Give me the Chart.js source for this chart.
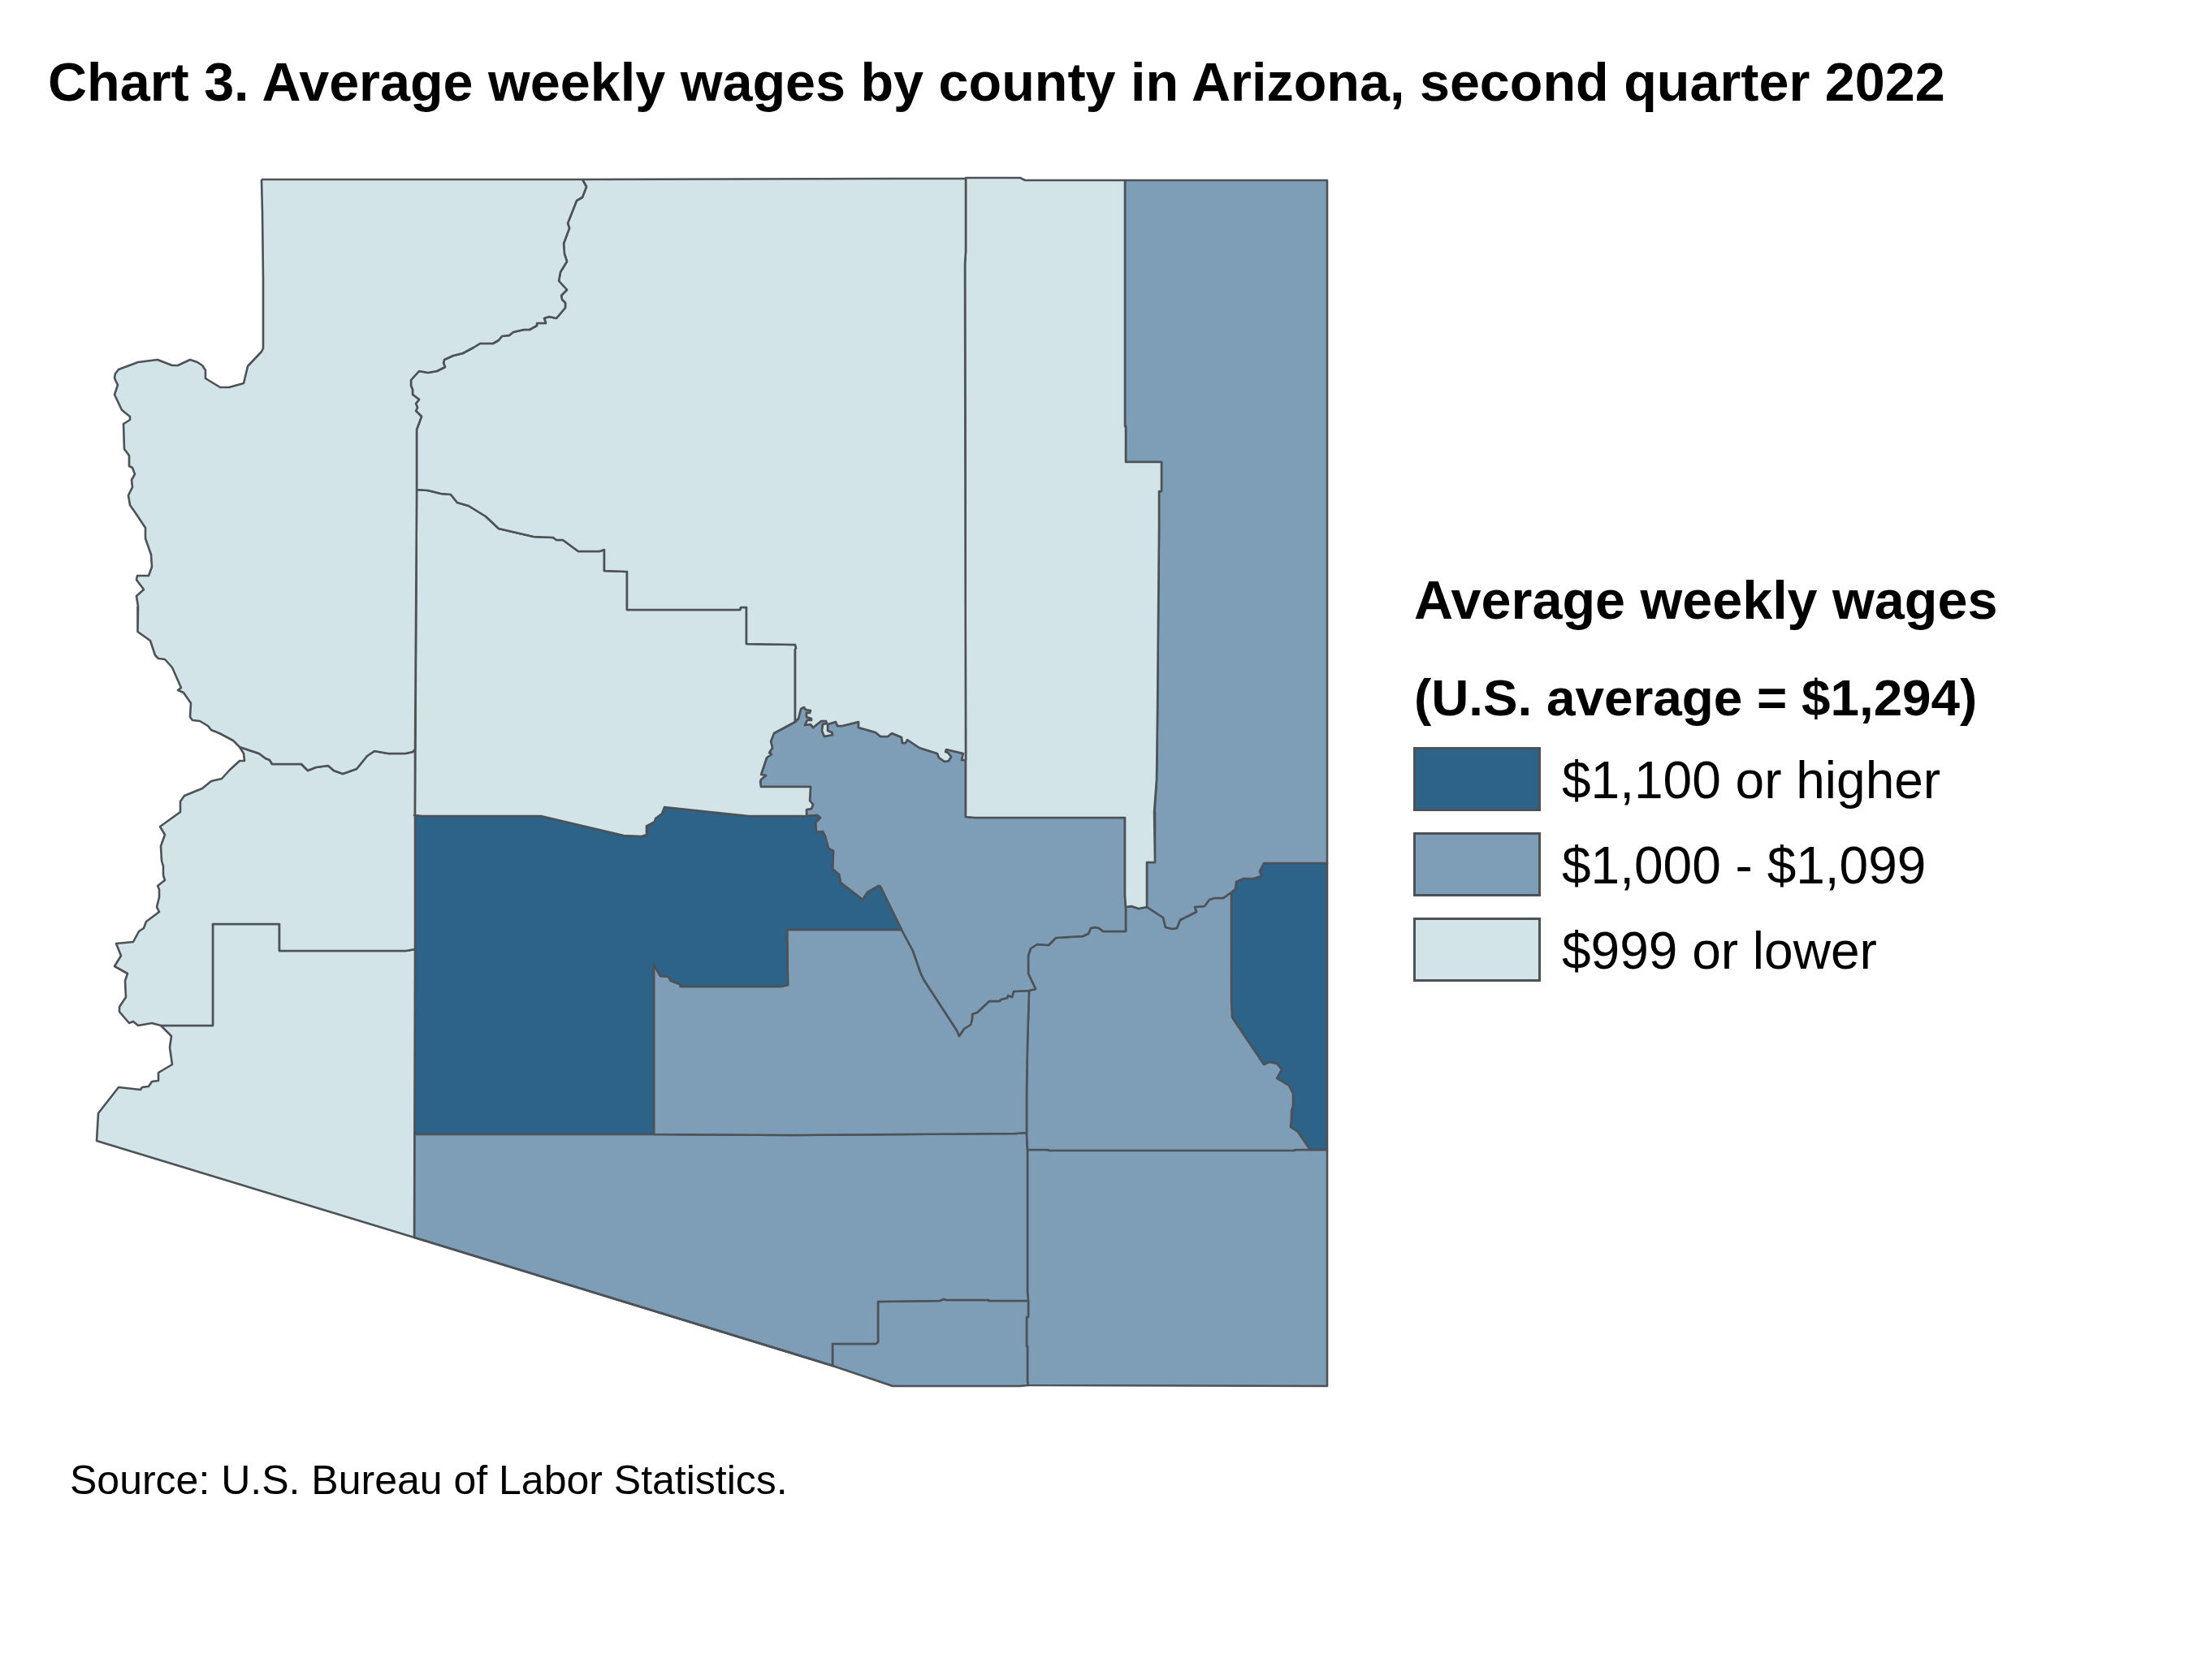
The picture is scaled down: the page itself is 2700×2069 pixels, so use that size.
<!DOCTYPE html>
<html>
<head>
<meta charset="utf-8">
<title>Average weekly wages by county in Arizona</title>
<script src="https://cdn.jsdelivr.net/npm/chart.js@4"></script>
<style>
  html, body { margin:0; padding:0; background:#fff; }
  #page { position:relative; width:2700px; height:2069px; font-family:"Liberation Sans", Arial, sans-serif; color:#000; overflow:hidden; }
  #map { position:absolute; left:0; top:0; }
  .txt { position:absolute; white-space:nowrap; line-height:1; }
  .bold { font-weight:bold; }
  #title { left:59px; top:68px; font-size:66.5px; }
  #legendHead1 { left:1741px; top:706px; font-size:66.5px; }
  #legendHead2 { left:1741px; top:828px; font-size:63.8px; }
  #source { left:86px; top:1798px; font-size:50px; }
  .swatch { position:absolute; left:1740px; width:151px; height:73px; border:3px solid #4d5257; }
  .tierLabel { position:absolute; left:1923px; font-size:64px; line-height:1; white-space:nowrap; }
</style>
</head>
<body>
<div id="page">
  <canvas id="map" width="2700" height="2069"></canvas>
  <div id="title" class="txt bold">Chart 3. Average weekly wages by county in Arizona, second quarter 2022</div>
  <div id="legendHead1" class="txt bold">Average weekly wages</div>
  <div id="legendHead2" class="txt bold">(U.S. average = $1,294)</div>
  <div id="legendRows"></div>
  <div id="source" class="txt">Source: U.S. Bureau of Labor Statistics.</div>
</div>
<script>
/* -------- WAGE TIERS -------- */
const tierLabels = ["$1,100 or higher", "$1,000 - $1,099", "$999 or lower"];
const tierColors = ["#2d6289", "#7e9eb8", "#d3e4e9"];

const countyNames = ["Mohave","Coconino","Navajo","Apache","Yavapai","La Paz","Yuma","Maricopa","Gila","Pinal","Graham","Greenlee","Pima","Santa Cruz","Cochise"];
const countyTiers = [2,2,2,1,2,2,2,0,1,1,1,0,1,1,1];

/* -------- COUNTY BORDERS (map units, shared stretches kept once) -------- */
const mohaveWest = [[322,221],[323,262],[324,344],[324,429],[322,433],[305,451],[300,472],[282,477],[271,477],[253,466],[253,456],[249,450],[243,446],[234,443],[219,450],[212,450],[194,443],[170,446],[146,455],[142,460],[141,465],[142,468],[145,474],[141,486],[150,505],[160,513],[160,517],[152,522],[153,553],[159,561],[159,574],[163,576],[166,584],[162,591],[163,600],[158,610],[160,622],[167,632],[179,650],[179,663],[186,683],[187,698],[183,709],[169,709],[168,714],[177,726],[168,734],[170,747],[170,763],[169,778],[185,789],[191,807],[195,811],[203,812],[212,822],[223,847],[219,850],[226,853],[235,866],[234,883],[237,887],[246,888],[256,894],[260,899],[270,903],[287,912],[295,920]];
const mohaveLaPaz = [[295,920],[319,928],[327,934],[332,936],[335,941],[371,941],[379,949],[389,945],[404,943],[411,949],[422,953],[439,947],[452,931],[461,925],[478,928],[499,928],[508,926],[511,923]];
const mohaveYavapai = [[513,603],[513,613],[512,773],[511,923]];
const mohaveCoconino = [[717,221],[722,230],[717,243],[710,247],[699,275],[701,281],[694,300],[695,313],[698,322],[690,335],[688,346],[698,357],[691,364],[692,369],[696,373],[696,379],[685,392],[676,390],[670,392],[672,398],[661,398],[661,401],[652,406],[645,406],[632,409],[627,413],[618,414],[614,419],[607,423],[591,423],[583,428],[570,435],[558,438],[547,443],[546,447],[548,452],[538,457],[527,459],[516,457],[506,468],[506,475],[508,480],[508,486],[516,492],[512,497],[514,502],[512,506],[519,513],[513,529],[513,603]];
const yavapaiNorth = [[513,603],[527,604],[543,608],[555,609],[563,619],[577,623],[598,636],[614,651],[657,661],[681,662],[685,665],[693,665],[712,679],[738,679],[744,677],[744,703],[772,704],[772,751],[911,751],[912,748],[919,748],[919,793],[979,794],[980,798],[979,800],[979,889]];
const coconinoGila = [[979,889],[983,885],[986,873],[990,871],[992,874],[998,875],[997,878],[993,878],[993,883],[999,885],[999,887],[994,887],[991,893],[998,892],[1001,896],[1011,888],[1017,888],[1018,891],[1013,892],[1012,900],[1015,907],[1025,905],[1024,902],[1019,900],[1019,892],[1029,889],[1031,894],[1037,894],[1057,889],[1057,896],[1078,902],[1084,907],[1093,907],[1098,903],[1110,908],[1111,915],[1115,915],[1117,911],[1132,921],[1154,928],[1156,933],[1163,938],[1168,937],[1171,932],[1167,927],[1164,926],[1165,923],[1186,928],[1184,936],[1189,936]];
const coconinoTop = [[717,221],[1100,220],[1189,220]];
const coconinoNavajo = [[1189,220],[1189,310],[1188,325],[1189,936]];
const navajoTop = [[1189,220],[1189,219],[1256,219],[1262,222],[1385,222]];
const navajoApache = [[1385,222],[1385,525],[1386,525],[1386,569],[1430,569],[1430,605],[1427,605],[1427,650],[1426,760],[1425,880],[1424,960],[1421,1000],[1422,1052],[1422,1062],[1412,1062],[1412,1117]];
const navajoGila = [[1189,936],[1189,1006],[1200,1007],[1385,1007],[1385,1103],[1386,1117]];
const navajoGraham = [[1386,1117],[1393,1116],[1402,1119],[1412,1117]];
const apacheGraham = [[1412,1117],[1432,1130],[1435,1142],[1443,1144],[1449,1143],[1453,1133],[1473,1123],[1471,1117],[1483,1116],[1489,1108],[1495,1106],[1506,1106],[1516,1099]];
const apacheGreenlee = [[1516,1099],[1521,1095],[1522,1086],[1531,1082],[1543,1082],[1553,1079],[1551,1073],[1556,1063],[1634,1063]];
const greenleeGraham = [[1516,1099],[1516,1233],[1517,1253],[1556,1311],[1563,1308],[1572,1310],[1578,1317],[1572,1328],[1587,1337],[1592,1347],[1592,1362],[1590,1368],[1590,1377],[1589,1388],[1598,1394],[1613,1416]];
const grahamCochise = [[1613,1416],[1595,1416],[1593,1417],[1292,1417],[1290,1416],[1265,1416]];
const grahamPinal = [[1265,1416],[1264,1395],[1264,1343],[1265,1287],[1267,1220]];
const grahamGila = [[1267,1220],[1275,1218],[1266,1199],[1266,1177],[1269,1168],[1277,1163],[1291,1164],[1300,1155],[1333,1153],[1340,1150],[1343,1143],[1348,1142],[1353,1143],[1358,1147],[1386,1147],[1386,1117]];
const gilaPinal = [[1267,1220],[1248,1221],[1246,1228],[1241,1226],[1240,1229],[1232,1231],[1231,1233],[1218,1233],[1203,1247],[1197,1249],[1197,1255],[1195,1262],[1187,1267],[1181,1276],[1178,1269],[1137,1206],[1133,1197],[1124,1171],[1110,1145]];
const gilaMaricopa = [[1110,1145],[1084,1092],[1082,1091],[1068,1099],[1062,1108],[1035,1087],[1033,1077],[1025,1070],[1026,1048],[1020,1045],[1016,1030],[1013,1024],[1005,1025],[1004,1013],[1010,1007],[1006,1004],[993,1005]];
const gilaYavapai = [[993,1005],[993,997],[999,996],[1001,991],[997,986],[998,969],[937,969],[936,963],[937,960],[943,955],[937,954],[939,948],[944,933],[950,929],[947,927],[951,921],[949,913],[953,903],[979,889]];
const maricopaYavapai = [[510,1004],[520,1005],[666,1005],[768,1029],[790,1030],[796,1028],[797,1017],[806,1012],[807,1008],[815,1002],[818,994],[922,1005],[993,1005]];
const maricopaPinal = [[1110,1145],[969,1145],[970,1213],[962,1215],[838,1215],[837,1212],[826,1208],[823,1203],[813,1202],[805,1188],[805,1397]];
const maricopaPima = [[805,1397],[510,1397]];
const pinalPima = [[805,1397],[975,1398],[1250,1396],[1264,1395]];
const laPazWest = [[295,920],[300,928],[301,937],[295,937],[283,948],[273,959],[260,962],[249,971],[227,980],[222,987],[222,1000],[197,1018],[203,1028],[198,1042],[199,1060],[201,1067],[201,1078],[203,1084],[194,1091],[196,1095],[196,1105],[193,1117],[196,1123],[180,1135],[177,1143],[171,1147],[164,1160],[143,1162],[149,1177],[141,1190],[157,1199],[154,1208],[155,1228],[147,1240],[147,1246],[159,1260],[164,1258],[170,1263],[187,1260],[198,1263]];
const laPazYuma = [[198,1263],[262,1263],[262,1138],[267,1138],[344,1138],[344,1171],[500,1171],[511,1169]];
const yumaWest = [[198,1263],[211,1276],[209,1290],[212,1311],[195,1321],[194,1331],[187,1332],[183,1338],[175,1339],[173,1342],[146,1339],[121,1371],[119,1405]];
const southWest = [[119,1405],[510,1524],[1000,1674],[1025,1682]];
const santaCruzSouth = [[1025,1682],[1099,1707],[1256,1707],[1266,1706]];
const santaCruzNorth = [[1025,1682],[1025,1655],[1078,1655],[1081,1653],[1081,1603],[1157,1602],[1162,1600],[1165,1601],[1217,1601],[1217,1602],[1266,1602]];
const pimaCochise = [[1265,1416],[1265,1591],[1266,1602]];
const santaCruzCochise = [[1266,1602],[1266,1622],[1264,1622],[1264,1658],[1265,1658],[1265,1702],[1266,1706]];
const cochiseOuter = [[1634,1416],[1634,1707],[1266,1706]];
const eastEdgeUpper = [[1385,222],[1634,222],[1634,1063]];
const eastEdgeLower = [[1634,1063],[1634,1416],[1613,1416]];

function rev(a){ return a.slice().reverse(); }

// each county = its stretches of border walked round in order
const countyOutlines = [
  [...mohaveWest, ...mohaveLaPaz, ...rev(mohaveYavapai), ...rev(mohaveCoconino), [322,221]],
  [...coconinoTop, ...coconinoNavajo, ...rev(coconinoGila), ...rev(yavapaiNorth), ...rev(mohaveCoconino)],
  [...navajoTop, ...navajoApache, ...rev(navajoGraham), ...rev(navajoGila), ...rev(coconinoNavajo)],
  [...eastEdgeUpper, ...rev(apacheGreenlee), ...rev(apacheGraham), ...rev(navajoApache)],
  [...yavapaiNorth, ...rev(gilaYavapai), ...rev(maricopaYavapai), [511,1004], [513,603]],
  [...mohaveLaPaz, [511,1169], ...rev(laPazYuma), ...rev(laPazWest)],
  [...laPazYuma, [510,1524], ...rev(southWest), ...rev(yumaWest)],
  [...maricopaYavapai, ...rev(gilaMaricopa), ...maricopaPinal, ...maricopaPima, [510,1004]],
  [...coconinoGila, ...navajoGila, ...rev(grahamGila), ...gilaPinal, ...gilaMaricopa, ...gilaYavapai],
  [...rev(gilaPinal), ...rev(grahamPinal).slice(0, -1), ...rev(pinalPima), ...rev(maricopaPinal)],
  [...navajoGraham, ...apacheGraham, ...greenleeGraham, ...grahamCochise, ...grahamPinal, ...grahamGila],
  [...apacheGreenlee, ...eastEdgeLower, ...rev(greenleeGraham)],
  [...pinalPima, [1265,1416], ...pimaCochise, ...rev(santaCruzNorth), [510,1524], [510,1397]],
  [...santaCruzNorth, ...santaCruzCochise, ...rev(santaCruzSouth)],
  [[1265,1416], [1634,1416], ...cochiseOuter, ...rev(santaCruzCochise), ...rev(pimaCochise)]
];

/* -------- MAP -------- */
const datasets = countyNames.map((name, i) => ({
  label: name,
  data: countyOutlines[i].map(p => ({x:p[0], y:p[1]})),
  backgroundColor: tierColors[countyTiers[i]],
  borderColor: "#4d5257",
  borderWidth: 2.6,
  borderJoinStyle: "round",
  fill: "shape",
  tension: 0,
  pointRadius: 0,
  clip: false
}));

new Chart(document.getElementById("map"), {
  type: "line",
  data: { datasets },
  options: {
    responsive: false,
    animation: false,
    layout: { padding: 0 },
    scales: {
      x: { type:"linear", display:false, min:0, max:2700 },
      y: { type:"linear", display:false, min:0, max:2069, reverse:true }
    },
    plugins: { legend:{display:false}, tooltip:{enabled:false} }
  }
});

/* -------- LEGEND -------- */
const swatchTops = [920, 1025, 1130];
const legendRows = document.getElementById("legendRows");
tierLabels.forEach((label, i) => {
  legendRows.innerHTML += `<div class="swatch" style="top:${swatchTops[i]}px;background:${tierColors[i]}"></div>`
    + `<div class="tierLabel" style="top:${swatchTops[i] + 9}px">${label}</div>`;
});
</script>
</body>
</html>
